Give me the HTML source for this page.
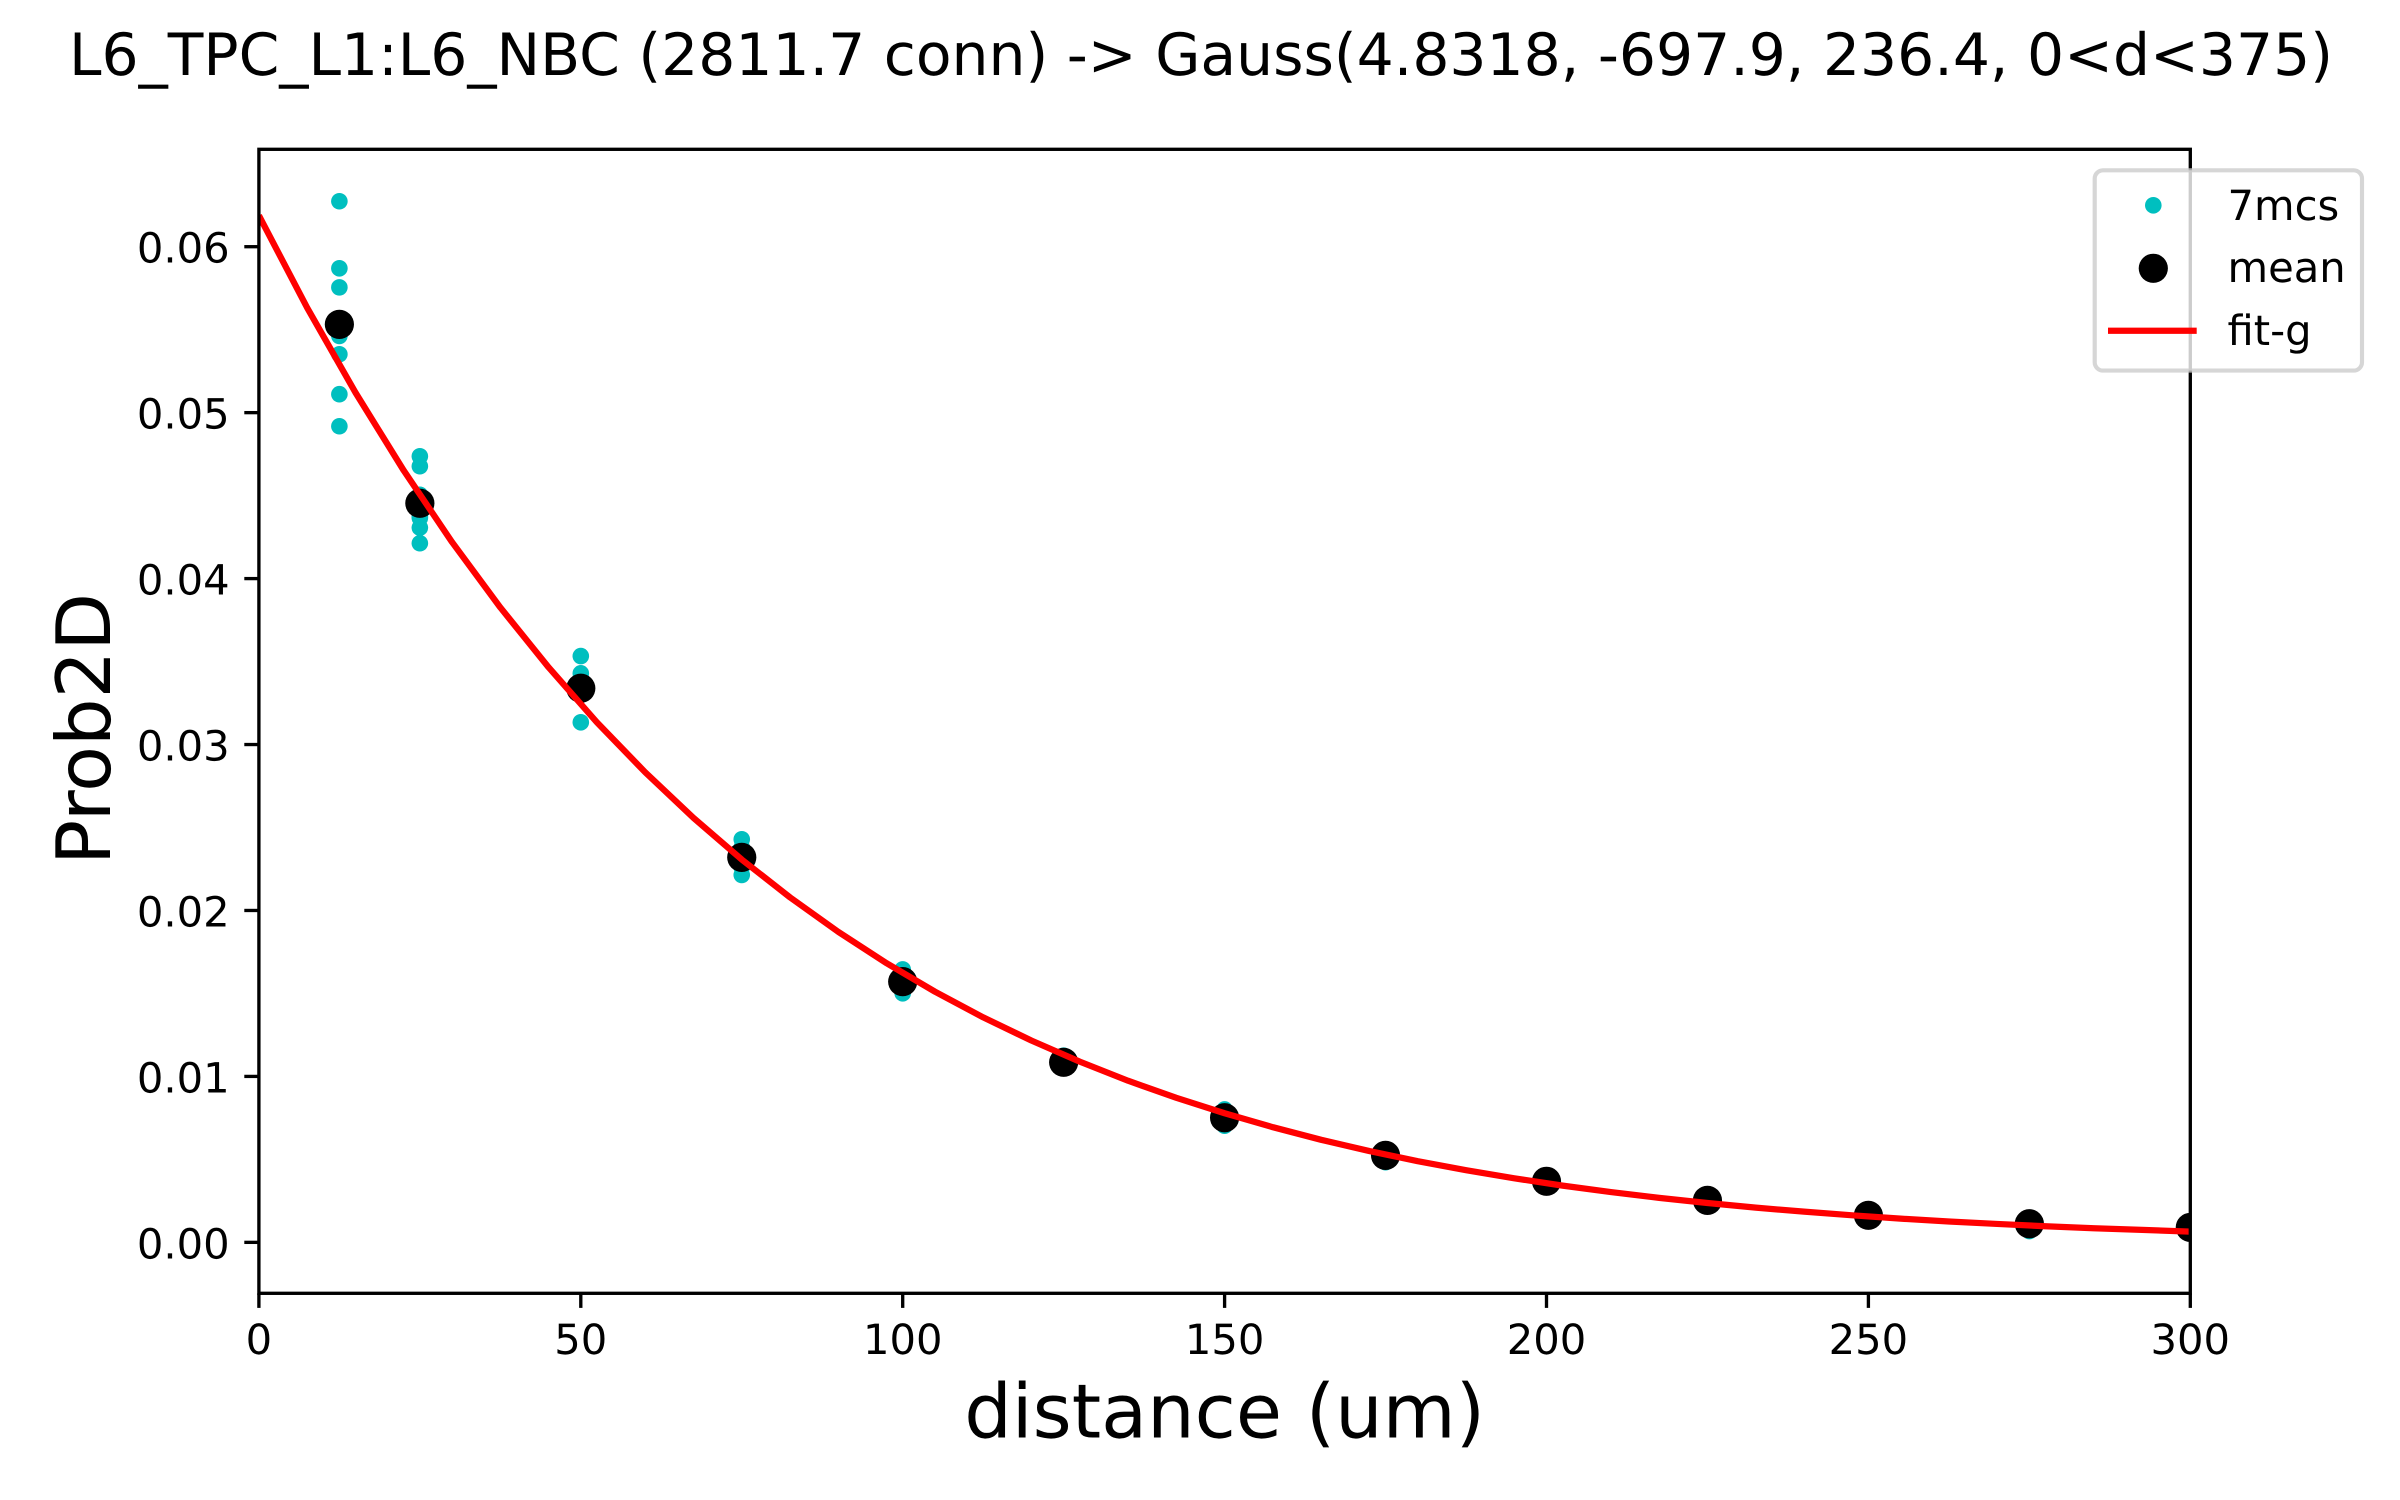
<!DOCTYPE html>
<html lang="en">
<head>
<meta charset="utf-8">
<title>L6_TPC_L1:L6_NBC connection probability</title>
<style>
html,body{margin:0;padding:0;background:#fff;}
#chart{display:block;width:2400px;height:1500px;}
text{font-family:"DejaVu Sans","Liberation Sans",sans-serif;fill:#000;text-rendering:geometricPrecision;}
</style>
</head>
<body>
<svg id="chart" xmlns="http://www.w3.org/2000/svg" width="2400" height="1500" viewBox="0 0 2400 1500">
  <defs>
    <clipPath id="plot-clip"><rect x="258.9" y="149.3" width="1931.4" height="1144"></rect></clipPath>
  </defs>
  <rect x="0" y="0" width="2400" height="1500" fill="#fff"></rect>
  <text x="1201" y="75" font-size="58.33" text-anchor="middle">L6_TPC_L1:L6_NBC (2811.7 conn) -&gt; Gauss(4.8318, -697.9, 236.4, 0&lt;d&lt;375)</text>
  <g id="marks" clip-path="url(#plot-clip)"></g>
  <g id="axes"></g>
  <text x="1224.6" y="1437.3" font-size="75" text-anchor="middle">distance (um)</text>
  <text x="0" y="0" font-size="75" text-anchor="middle" transform="translate(110 729) rotate(-90)">Prob2D</text>
  <g>
    <rect x="2094.7" y="170.3" width="267.3" height="200.3" rx="8.3" ry="8.3" fill="#fff" fill-opacity="0.8" stroke="#ccc" stroke-opacity="0.8" stroke-width="4.17"></rect>
    <circle cx="2153.3" cy="205.3" r="8.3" fill="#00bfbf"></circle>
    <text x="2227.5" y="220" font-size="41.67">7mcs</text>
    <circle cx="2153.3" cy="268.3" r="14.6" fill="#000"></circle>
    <text x="2227.5" y="282.2" font-size="41.67">mean</text>
    <line x1="2108" y1="330.7" x2="2196.7" y2="330.7" stroke="#f00" stroke-width="6.25"></line>
    <text x="2227.5" y="345" font-size="41.67">fit-g</text>
  </g>
</svg>
<script>
// Distances (um) at which samples were taken
const distances = [12.5, 25, 50, 75, 100, 125, 150, 175, 200, 225, 250, 275, 300];
// Circuit samples, one array per distance
const samples12_5 = [0.06274, 0.0587, 0.05755, 0.05462, 0.05352, 0.05111, 0.04918];
const samples25 = [0.04737, 0.04677, 0.04505, 0.04374, 0.04365, 0.04307, 0.04213];
const samples50 = [0.03533, 0.03429, 0.034, 0.0335, 0.0333, 0.033, 0.03134];
const samples75 = [0.02429, 0.0238, 0.0235, 0.0232, 0.0229, 0.0226, 0.02214];
const samples100 = [0.01645, 0.0163, 0.016, 0.0157, 0.0154, 0.0152, 0.01501];
const samples125 = [0.01125, 0.011, 0.0109, 0.0108, 0.0107, 0.0106, 0.0105];
const samples150 = [0.00801, 0.0078, 0.0076, 0.0075, 0.0074, 0.0072, 0.00703];
const samples175 = [0.0056, 0.0055, 0.0053, 0.0052, 0.0051, 0.005, 0.00483];
const samples200 = [0.0039, 0.0038, 0.0037, 0.0037, 0.0036, 0.0036, 0.0035];
const samples225 = [0.0027, 0.0026, 0.0026, 0.0025, 0.0025, 0.0024, 0.0024];
const samples250 = [0.0018, 0.0017, 0.0017, 0.0016, 0.0016, 0.0015, 0.0015];
const samples275 = [0.0014, 0.0013, 0.0012, 0.0011, 0.001, 0.0009, 0.00068];
const samples300 = [0.0011, 0.001, 0.001, 0.0009, 0.0008, 0.0008, 0.0007];
const sampleSets = [samples12_5, samples25, samples50, samples75, samples100, samples125, samples150, samples175, samples200, samples225, samples250, samples275, samples300];
// Mean per distance
const means = [0.05532, 0.04454, 0.03339, 0.0232, 0.01571, 0.01085, 0.00751, 0.00524, 0.00368, 0.00253, 0.00163, 0.00112, 0.0009];
// Fit curve samples
const fitDistances = [0, 7.5, 15, 22.5, 30, 37.5, 45, 52.5, 60, 67.5, 75, 82.5, 90, 97.5, 105, 112.5, 120, 127.5, 135, 142.5, 150, 157.5, 165, 172.5, 180, 187.5, 195, 202.5, 210, 217.5, 225, 232.5, 240, 247.5, 255, 262.5, 270, 277.5, 285, 292.5, 300];
const fitValues = [0.06188, 0.05632, 0.05121, 0.04651, 0.0422, 0.03826, 0.03465, 0.03134, 0.02833, 0.02558, 0.02307, 0.02079, 0.01871, 0.01682, 0.01511, 0.01356, 0.01216, 0.01089, 0.00974, 0.00871, 0.00778, 0.00694, 0.00618, 0.0055, 0.00489, 0.00435, 0.00386, 0.00342, 0.00303, 0.00268, 0.00237, 0.00209, 0.00185, 0.00163, 0.00143, 0.00126, 0.00111, 0.00097, 0.00085, 0.00075, 0.00065];
// Tick values and labels
const xTicks = [0, 50, 100, 150, 200, 250, 300];
const xTickLabels = ["0", "50", "100", "150", "200", "250", "300"];
const yTicks = [0, 0.01, 0.02, 0.03, 0.04, 0.05, 0.06];
const yTickLabels = ["0.00", "0.01", "0.02", "0.03", "0.04", "0.05", "0.06"];

const NS = 'http://www.w3.org/2000/svg';
const plot = {left: 258.9, right: 2190.3, top: 149.3, bottom: 1293.3};
const xDomain = [0, 300];
const yDomain = [-0.00307, 0.06587];
function xScale(v) {
  return plot.left + (v - xDomain[0]) / (xDomain[1] - xDomain[0]) * (plot.right - plot.left);
}
function yScale(v) {
  return plot.bottom - (v - yDomain[0]) / (yDomain[1] - yDomain[0]) * (plot.bottom - plot.top);
}
function make(tag, attrs, parent) {
  const el = document.createElementNS(NS, tag);
  for (const k in attrs) el.setAttribute(k, attrs[k]);
  parent.appendChild(el);
  return el;
}
const marks = document.getElementById('marks');
const axes = document.getElementById('axes');

// Sample points
sampleSets.forEach(function (set, i) {
  set.forEach(function (v) {
    const dot = make('circle', {cx: xScale(distances[i]), cy: yScale(v), r: 8.3, fill: '#00bfbf'}, marks);
    
    
  });
});
// Means
means.forEach(function (v, i) {
  const dot = make('circle', {cx: xScale(distances[i]), cy: yScale(v), r: 14.6, fill: '#000'}, marks);
  
  
});
// Fit curve
const fitPoints = fitValues.map(function (v, i) {
  return xScale(fitDistances[i]).toFixed(2) + ',' + yScale(v).toFixed(2);
}).join(' ');
const fitLine = make('polyline', {points: fitPoints, fill: 'none', stroke: '#f00', 'stroke-width': 6.25, 'stroke-linejoin': 'round'}, marks);



// Ticks and labels
xTicks.forEach(function (t, i) {
  const x = xScale(t);
  const tick = make('line', {x1: x, x2: x, y1: plot.bottom, y2: plot.bottom + 14.6, stroke: '#000', 'stroke-width': 3.33}, axes);
  
  
  const label = make('text', {x: x, y: 1354, 'font-size': 41.67, 'text-anchor': 'middle'}, axes);
  
  
  label.textContent = xTickLabels[i];
});
yTicks.forEach(function (t, i) {
  const y = yScale(t);
  const tick = make('line', {x1: plot.left - 14.6, x2: plot.left, y1: y, y2: y, stroke: '#000', 'stroke-width': 3.33}, axes);
  
  
  const label = make('text', {x: plot.left - 29.2, y: y + 16, 'font-size': 41.67, 'text-anchor': 'end'}, axes);
  
  
  label.textContent = yTickLabels[i];
});
// Frame
const frame = make('rect', {x: plot.left, y: plot.top, width: plot.right - plot.left, height: plot.bottom - plot.top, fill: 'none', stroke: '#000', 'stroke-width': 3.33}, axes);


</script>
</body>
</html>
